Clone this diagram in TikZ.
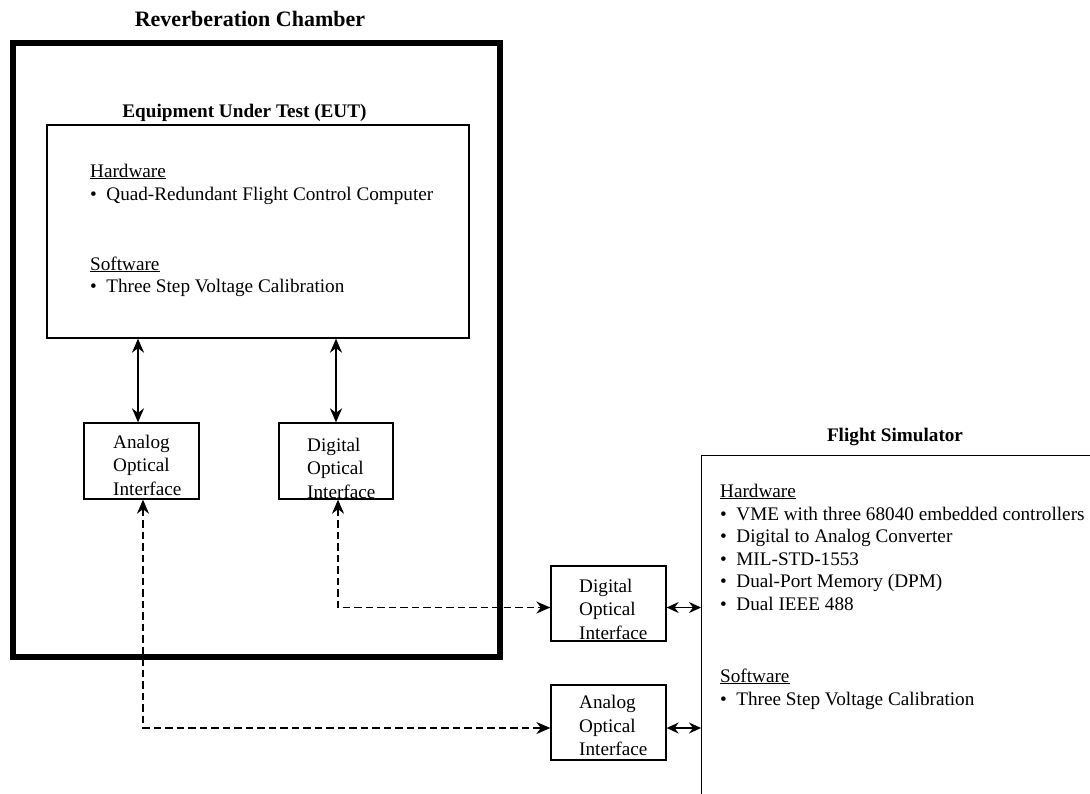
\documentclass[tikz,border=0pt]{standalone}
\usepackage{fontspec}
\setmainfont{Liberation Serif}
\usetikzlibrary{arrows.meta}
\begin{document}
\begin{tikzpicture}[x=1pt,y=-1pt,
  thinbox/.style={draw, line width=1.3pt, inner sep=0pt},
  bodytxt/.style={anchor=base west, inner sep=0pt, font=\fontsize{19.2}{23}\selectfont},
  ttl/.style={anchor=base, inner sep=0pt, font=\bfseries\fontsize{19.2}{23}\selectfont},
  bigttl/.style={anchor=base, inner sep=0pt, font=\bfseries\fontsize{22}{26}\selectfont},
  iftxt/.style={anchor=base west, inner sep=0pt, align=left, font=\fontsize{19.2}{23.5}\selectfont},
  solidarr/.style={line width=1.6pt, {Stealth[length=14pt, width=12pt, inset=4.5pt]}-{Stealth[length=14pt, width=12pt, inset=4.5pt]}},
  shortarr/.style={line width=1.6pt, {Stealth[length=12pt, width=11pt, inset=4pt]}-{Stealth[length=12pt, width=11pt, inset=4pt]}},
  dasharr/.style={line width=1.6pt, dash pattern=on 7.5pt off 4pt, {Stealth[length=14pt, width=12pt, inset=4.5pt]}-{Stealth[length=14pt, width=12pt, inset=4.5pt]}},
]
\useasboundingbox (0,0) rectangle (1090,793);
\fill[white] (0,0) rectangle (1090,793);

% Reverberation chamber
\node[bigttl] (rctitle) at (250,26) {Reverberation Chamber};
\draw[line width=6pt] (12.5,42.5) rectangle (499.5,656.5);

% EUT
\node[ttl] (euttitle) at (244.5,117) {Equipment Under Test (EUT)};
\node[thinbox, minimum width=422pt, minimum height=213pt] (eut) at (258,231.5) {};
\node[bodytxt] (euthw) at (90,177) {\underline{Hardware}};
\node[bodytxt] (euthw1) at (90,200) {•\hspace{9.5pt}Quad-Redundant Flight Control Computer};
\node[bodytxt] (eutsw) at (90,270) {\underline{Software}};
\node[bodytxt] (eutsw1) at (90,292) {•\hspace{9.5pt}Three Step Voltage Calibration};

% Interfaces inside chamber
\node[thinbox, minimum width=115pt, minimum height=76pt] (aoi) at (141.5,461) {};
\node[iftxt] (aoitxt) at (113,495) {Analog\\Optical\\Interface};
\node[thinbox, minimum width=114pt, minimum height=76pt] (doi) at (336,461) {};
\node[iftxt] (doitxt) at (307,498) {Digital\\Optical\\Interface};

\draw[solidarr] (eut.south -| 138,0) -- (aoi.north -| 138,0);
\draw[solidarr] (eut.south -| 336,0) -- (doi.north -| 336,0);

% Interfaces outside
\node[thinbox, minimum width=115pt, minimum height=75pt] (doi2) at (608.5,603.5) {};
\node[iftxt] (doi2txt) at (579,639) {Digital\\Optical\\Interface};
\node[thinbox, minimum width=115pt, minimum height=75pt] (aoi2) at (608.5,722.5) {};
\node[iftxt] (aoi2txt) at (579,755.5) {Analog\\Optical\\Interface};

% Flight simulator
\node[ttl] (fstitle) at (895,441) {Flight Simulator};
\node[thinbox, minimum width=420pt, minimum height=360pt, anchor=north west] (fs) at (701,455) {};
\node[bodytxt] (fshw) at (720,497) {\underline{Hardware}};
\node[bodytxt] (fshw1) at (720,520) {•\hspace{9.5pt}VME with three 68040 embedded controllers};
\node[bodytxt] (fshw2) at (720,542.5) {•\hspace{9.5pt}Digital to Analog Converter};
\node[bodytxt] (fshw3) at (720,565) {•\hspace{9.5pt}MIL-STD-1553};
\node[bodytxt] (fshw4) at (720,587.5) {•\hspace{9.5pt}Dual-Port Memory (DPM)};
\node[bodytxt] (fshw5) at (720,610) {•\hspace{9.5pt}Dual IEEE 488};
\node[bodytxt] (fssw) at (720,682) {\underline{Software}};
\node[bodytxt] (fssw1) at (720,705) {•\hspace{9.5pt}Three Step Voltage Calibration};

% Dashed connectors
\draw[dasharr] ([xshift=1.5pt]aoi.south) |- (aoi2.west |- 0,728);
\draw[dasharr] ([xshift=2pt]doi.south) |- (doi2.west |- 0,607.5);

% Short double arrows
\draw[shortarr] (doi2.east |- 0,607.5) -- (fs.west |- 0,607.5);
\draw[shortarr] (aoi2.east |- 0,728) -- (fs.west |- 0,728);
\end{tikzpicture}
\end{document}
